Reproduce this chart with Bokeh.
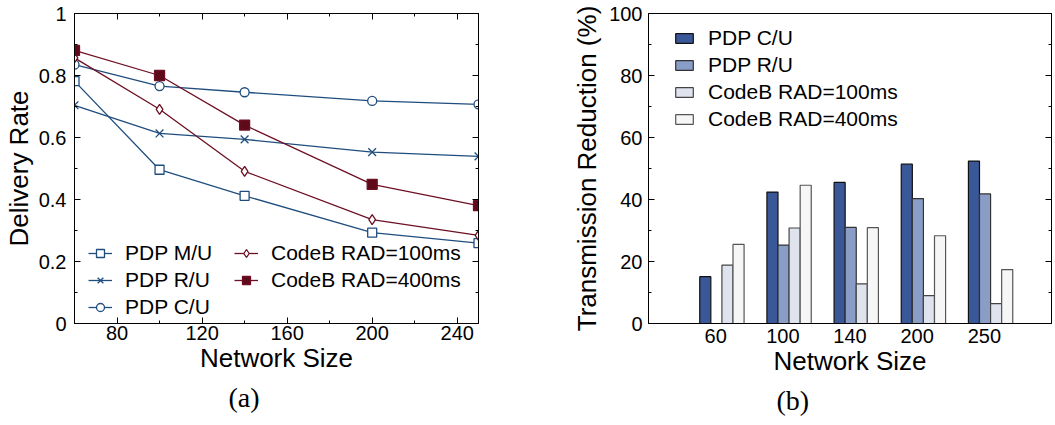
from bokeh.plotting import figure
from bokeh.models import (Range1d, LinearAxis, FixedTicker, CustomJSTickFormatter,
                          Legend, LegendItem, Title, ColumnDataSource)
from bokeh.layouts import row
from bokeh.transform import dodge
from bokeh.embed import file_html
from bokeh.resources import INLINE

# ---------------- data ----------------
network_sizes = [60, 100, 140, 200, 250]

pdp_mu = [0.782, 0.496, 0.412, 0.293, 0.259]
pdp_ru = [0.704, 0.613, 0.594, 0.553, 0.539]
pdp_cu = [0.835, 0.766, 0.746, 0.718, 0.707]
codeb_100 = [0.857, 0.691, 0.491, 0.335, 0.284]
codeb_400 = [0.881, 0.800, 0.640, 0.449, 0.380]

bar_categories = ["60", "100", "140", "200", "250"]
red_pdp_cu = [15.1, 42.4, 45.5, 51.4, 52.4]
red_pdp_ru = [0.0, 25.3, 31.0, 40.3, 41.8]
red_codeb_100 = [18.8, 30.8, 12.8, 9.0, 6.4]
red_codeb_400 = [25.5, 44.6, 30.9, 28.3, 17.4]

# ---------------- style ----------------
FONT = "Liberation Sans"
SERIF = "Liberation Serif"
BLUE = "#1f4e7e"
RED = "#6e1024"
RED_FILL = "#5e0a1a"
TICK_FS = "20px"
LABEL_FS = "26px"
LEG_FS = "21px"
CAP_FS = "28px"
H = 420

empty_fmt = CustomJSTickFormatter(code="return ''")


def style_axis(ax, label_size=TICK_FS):
    ax.axis_line_color = "black"
    ax.major_tick_in = 6
    ax.major_tick_out = 0
    ax.minor_tick_in = 3
    ax.minor_tick_out = 0
    ax.major_tick_line_color = "black"
    ax.minor_tick_line_color = "black"
    ax.major_label_text_font = FONT
    ax.major_label_text_font_size = label_size
    ax.major_label_text_color = "black"
    ax.axis_label_text_font = FONT
    ax.axis_label_text_font_size = LABEL_FS
    ax.axis_label_text_font_style = "normal"
    ax.axis_label_text_color = "black"


def mirror_axis(ticks, minor):
    ax = LinearAxis(ticker=FixedTicker(ticks=ticks, minor_ticks=minor),
                    formatter=empty_fmt)
    style_axis(ax, label_size="0px")
    ax.major_label_standoff = 0
    ax.axis_label_standoff = 0
    ax.axis_label_text_font_size = "0px"
    return ax


def make_legend(its, loc, gw, gh, standoff, spacing):
    lg = Legend(items=its, location=loc, orientation="vertical")
    lg.label_text_font = FONT
    lg.label_text_font_size = LEG_FS
    lg.label_text_color = "black"
    lg.glyph_width = gw
    lg.glyph_height = gh
    lg.label_height = gh
    lg.label_standoff = standoff
    lg.spacing = spacing
    lg.padding = 0
    lg.margin = 0
    lg.border_line_alpha = 0
    lg.background_fill_alpha = 0
    return lg


# ---------------- left: delivery rate ----------------
p1 = figure(width=490, height=H, output_backend="svg", toolbar_location=None,
            x_range=Range1d(60, 250), y_range=Range1d(0, 1),
            min_border_left=72, min_border_right=12, min_border_top=13,
            min_border_bottom=94)
p1.outline_line_color = "black"
p1.grid.visible = False

x_major = [80, 120, 160, 200, 240]
x_minor = [60, 100, 140, 180, 220]
y_major = [0, 0.2, 0.4, 0.6, 0.8, 1.0]
y_minor = [0.1, 0.3, 0.5, 0.7, 0.9]
p1.xaxis.ticker = FixedTicker(ticks=x_major, minor_ticks=x_minor)
p1.yaxis.ticker = FixedTicker(ticks=y_major, minor_ticks=y_minor)
p1.xaxis.axis_label = "Network Size"
p1.yaxis.axis_label = "Delivery Rate"
p1.yaxis.formatter = CustomJSTickFormatter(
    code="return tick == 0 || tick == 1 ? tick.toFixed(0) : tick.toFixed(1)")
style_axis(p1.xaxis[0])
style_axis(p1.yaxis[0])
p1.xaxis.major_label_standoff = 2
p1.xaxis.axis_label_standoff = 0
p1.yaxis.major_label_standoff = 8
p1.yaxis.axis_label_standoff = 2

p1.add_layout(mirror_axis(y_major, y_minor), "right")
p1.add_layout(mirror_axis(x_major, x_minor), "above")

series = [
    ("PDP M/U", pdp_mu, BLUE, "square", 9, "white"),
    ("PDP R/U", pdp_ru, BLUE, "x", 11, None),
    ("PDP C/U", pdp_cu, BLUE, "circle", 9, "white"),
    ("CodeB RAD=100ms", codeb_100, RED, "diamond", 10, "white"),
    ("CodeB RAD=400ms", codeb_400, RED, "square", 10, RED_FILL),
]
items = []
for name, ys, col, mk, sz, fill in series:
    src = ColumnDataSource(dict(x=network_sizes, y=ys))
    lr = p1.line("x", "y", source=src, line_color=col, line_width=1.3)
    sr = p1.scatter("x", "y", source=src, marker=mk, size=sz, line_color=col,
                    line_width=1.3, fill_color=fill if fill else col,
                    fill_alpha=1 if fill else 0)
    items.append(LegendItem(label=name, renderers=[lr, sr]))

p1.add_layout(make_legend(items[:3], (14, 4), 24, 20, 13, 3))
p1.add_layout(make_legend(items[3:], (160, 31), 24, 20, 13, 3))

p1.add_layout(Title(text="(a)", align="left", offset=154, text_font=SERIF,
                    text_font_size=CAP_FS, text_font_style="normal",
                    text_color="black", standoff=9), "below")

# ---------------- right: transmission reduction ----------------
p2 = figure(width=563, height=H, output_backend="svg", toolbar_location=None,
            x_range=Range1d(-1, 5), y_range=Range1d(0, 100),
            min_border_left=158, min_border_right=2, min_border_top=13,
            min_border_bottom=97)
p2.outline_line_color = "black"
p2.grid.visible = False

idx = list(range(len(bar_categories)))
p2.xaxis.ticker = FixedTicker(ticks=idx)
p2.xaxis.major_label_overrides = {i: c for i, c in zip(idx, bar_categories)}
r_major = [0, 20, 40, 60, 80, 100]
r_minor = [10, 30, 50, 70, 90]
p2.yaxis.ticker = FixedTicker(ticks=r_major, minor_ticks=r_minor)
p2.xaxis.axis_label = "Network Size"
p2.yaxis.axis_label = "Transmission Reduction (%)"
style_axis(p2.xaxis[0])
style_axis(p2.yaxis[0])
p2.xaxis.major_tick_in = 0
p2.xaxis.minor_tick_in = 0
p2.xaxis.major_label_standoff = 5
p2.xaxis.axis_label_standoff = 0
p2.yaxis.major_label_standoff = 6
p2.yaxis.axis_label_standoff = 4

p2.add_layout(mirror_axis(r_major, r_minor), "right")

bar_src = ColumnDataSource(dict(x=idx, cu=red_pdp_cu, ru=red_pdp_ru,
                                c100=red_codeb_100, c400=red_codeb_400))
BW = 0.165
SHIFT = 0.093
bar_series = [
    ("PDP C/U", "cu", "#3a5898", "#111111"),
    ("PDP R/U", "ru", "#8a9dc6", "#333333"),
    ("CodeB RAD=100ms", "c100", "#dfe3ee", "#444444"),
    ("CodeB RAD=400ms", "c400", "#f6f6f6", "#555555"),
]
bar_items = []
for k, (name, col, fc, lc) in enumerate(bar_series):
    off = SHIFT + (k - 1.5) * BW
    r = p2.vbar(x=dodge("x", off), top=col, width=BW, source=bar_src,
                fill_color=fc, line_color=lc, line_width=1.2)
    bar_items.append(LegendItem(label=name, renderers=[r]))

p2.add_layout(make_legend(bar_items, (25, 192), 22, 12, 13, 3))

p2.add_layout(Title(text="(b)", align="left", offset=128, text_font=SERIF,
                    text_font_size=CAP_FS, text_font_style="normal",
                    text_color="black", standoff=9), "below")

layout = row(p1, p2)
open("out.html", "w").write(file_html(layout, INLINE))
